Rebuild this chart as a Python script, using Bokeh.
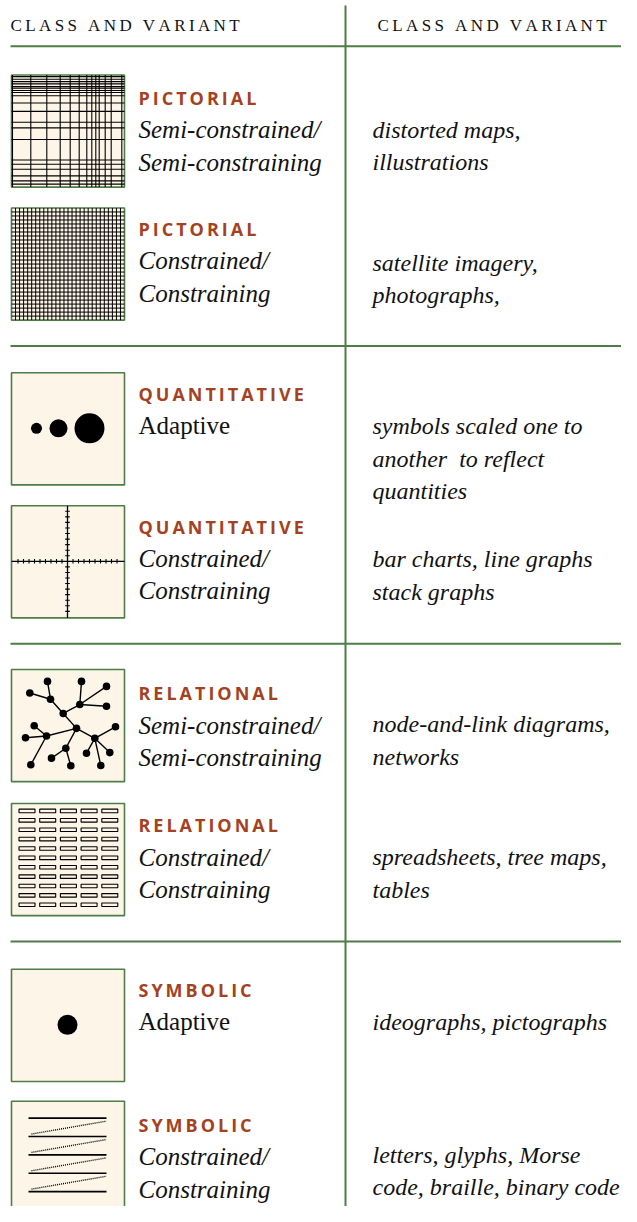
from bokeh.plotting import figure
from bokeh.models import Range1d
from bokeh.embed import file_html
from bokeh.resources import INLINE
from bokeh.core.properties import value

# ---------------- data ----------------
header_labels = ["CLASS AND VARIANT", "CLASS AND VARIANT"]
class_names = ["PICTORIAL", "PICTORIAL", "QUANTITATIVE", "QUANTITATIVE",
               "RELATIONAL", "RELATIONAL", "SYMBOLIC", "SYMBOLIC"]
variant_lines = [["Semi-constrained/", "Semi-constraining"],
                 ["Constrained/", "Constraining"],
                 ["Adaptive"],
                 ["Constrained/", "Constraining"],
                 ["Semi-constrained/", "Semi-constraining"],
                 ["Constrained/", "Constraining"],
                 ["Adaptive"],
                 ["Constrained/", "Constraining"]]
example_lines = [["distorted maps,", "illustrations"],
                 ["satellite imagery,", "photographs,"],
                 ["symbols scaled one to", "another  to reflect", "quantities"],
                 ["bar charts, line graphs", "stack graphs"],
                 ["node-and-link diagrams,", "networks"],
                 ["spreadsheets, tree maps,", "tables"],
                 ["ideographs, pictographs"],
                 ["letters, glyphs, Morse", "code, braille, binary code"]]

# irregular grid of the pictorial semi-constrained icon (offsets inside the box)
semi_grid_x = [1, 19.3, 35.3, 48.7, 58.7, 67.7, 75.3, 80.3, 84.3, 87.7, 93.7, 99.7, 110.3]
semi_grid_y = [1.7, 4.3, 6.7, 9, 11.7, 13.3, 15.7, 17.7, 21, 28.3, 36.7, 47.7, 53.3, 65,
               85.7, 90, 95, 101.7, 106.7, 110]
# bubble sizes (radius) for the quantitative adaptive icon
bubble_x = [25, 47, 78]
bubble_r = [5.5, 9, 15]
# network icon nodes and links
node_x = [36, 70, 95, 18.3, 39, 68.3, 95, 51.7, 22.7, 65, 104, 14, 35, 83.3, 54.3, 75, 98.3, 40, 19.3, 59.3, 89.3]
node_y = [12, 12, 17, 23.7, 30, 35.3, 37, 44.3, 56.7, 59.3, 57.7, 68.7, 67, 69.3, 79.3, 84.3, 83.7, 89.3, 96, 97, 96.7]
links = [(0, 4), (3, 4), (4, 7), (1, 5), (2, 5), (6, 5), (5, 7), (7, 9), (9, 12), (12, 8),
         (12, 11), (12, 18), (9, 14), (14, 17), (14, 19), (9, 13), (13, 10), (13, 15),
         (13, 16), (13, 20)]

# ---------------- layout ----------------
GREEN = "#4f7d48"
CREAM = "#fdf6e8"
BRICK = "#a4421f"

box_tops = [75, 209, 375, 509, 674, 809, 976, 1109]
title_y = [98, 230, 396, 530, 698, 831, 997, 1133]
example_y = [130, 264, 429, 563, 729, 863, 1029, 1163]
BOX_X = 11
BOX = 113
LINE_GAP = 32.8

p = figure(width=621, height=1206, output_backend="svg", toolbar_location=None,
           x_range=Range1d(0, 621), y_range=Range1d(1215, 0),
           min_border=0, outline_line_color=None, background_fill_color="white")
p.axis.visible = False
p.grid.visible = False


def spaced(s, sep="\u2009"):
    return sep.join(list(s))


# header
p.text(x=[10, 377], y=[25, 25], text=[spaced(h) for h in header_labels],
       text_font=value("Liberation Serif"), text_font_size="17px",
       text_baseline="middle", text_align="left", text_color="#111111")

# rules
p.segment(x0=[10, 10, 10, 10], x1=[632] * 4, y0=[46, 348, 648, 948], y1=[46, 348, 648, 948],
          line_color=GREEN, line_width=2)
p.segment(x0=[345], x1=[345], y0=[5], y1=[1222], line_color=GREEN, line_width=2)

# boxes
p.quad(left=[BOX_X] * 8, right=[BOX_X + BOX] * 8, top=box_tops,
       bottom=[t + BOX for t in box_tops], fill_color=CREAM, line_color=GREEN, line_width=1.6)

# icon 1: irregular grid
t = box_tops[0]
p.segment(x0=[BOX_X + gx for gx in semi_grid_x], x1=[BOX_X + gx for gx in semi_grid_x],
          y0=[t] * len(semi_grid_x), y1=[t + BOX] * len(semi_grid_x), line_color="black", line_width=1.1)
p.segment(x0=[BOX_X] * len(semi_grid_y), x1=[BOX_X + BOX] * len(semi_grid_y),
          y0=[t + gy for gy in semi_grid_y], y1=[t + gy for gy in semi_grid_y], line_color="black", line_width=1.1)

# icon 2: fine regular grid
t = box_tops[1]
n = 28
step = BOX / n
pos = [i * step for i in range(1, n)]
p.segment(x0=[BOX_X + v for v in pos], x1=[BOX_X + v for v in pos], y0=[t] * len(pos), y1=[t + BOX] * len(pos),
          line_color="black", line_width=1)
p.segment(x0=[BOX_X] * len(pos), x1=[BOX_X + BOX] * len(pos), y0=[t + v for v in pos], y1=[t + v for v in pos],
          line_color="black", line_width=1)

# icon 3: bubbles
t = box_tops[2]
p.circle(x=[BOX_X + bx for bx in bubble_x], y=[t + 56] * 3, radius=bubble_r, fill_color="black", line_color=None)

# icon 4: axes with ticks
t = box_tops[3]
cx, cy = BOX_X + 56, t + 56
p.segment(x0=[BOX_X, cx], x1=[BOX_X + BOX, cx], y0=[cy, t], y1=[cy, t + BOX], line_color="black", line_width=1.3)
tk = [k for k in range(-9, 10) if k != 0]
p.segment(x0=[cx + k * 5.5 for k in tk], x1=[cx + k * 5.5 for k in tk],
          y0=[cy - 2.3] * len(tk), y1=[cy + 2.3] * len(tk), line_color="black", line_width=1.1)
p.segment(x0=[cx - 2.3] * len(tk), x1=[cx + 2.3] * len(tk),
          y0=[cy + k * 5.6 for k in tk], y1=[cy + k * 5.6 for k in tk], line_color="black", line_width=1.1)

# icon 5: network
t = box_tops[4]
p.segment(x0=[BOX_X + node_x[a] for a, b in links], x1=[BOX_X + node_x[b] for a, b in links],
          y0=[t + node_y[a] for a, b in links], y1=[t + node_y[b] for a, b in links],
          line_color="black", line_width=1.4)
p.circle(x=[BOX_X + v for v in node_x], y=[t + v for v in node_y], radius=3.8,
         fill_color="black", line_color=None)

# icon 6: table cells
t = box_tops[5]
cols = 5
rows = 11
p.rect(x=[BOX_X + 15.5 + c * 20.7 for r in range(rows) for c in range(cols)],
       y=[t + 7.5 + r * 9.45 for r in range(rows) for c in range(cols)],
       width=16, height=3.6, fill_color=None, line_color="black", line_width=1.1)

# icon 7: single dot
t = box_tops[6]
p.circle(x=[BOX_X + 56], y=[t + 56], radius=10, fill_color="black", line_color=None)

# icon 8: lines of text
t = box_tops[7]
sol = [t + 17 + i * 18.5 for i in range(5)]
p.segment(x0=[BOX_X + 17] * 5, x1=[BOX_X + 95] * 5, y0=sol, y1=sol, line_color="black", line_width=1.6)
p.segment(x0=[BOX_X + 20] * 4, x1=[BOX_X + 95] * 4, y0=[s - 2.5 for s in sol[1:]], y1=[s + 3 for s in sol[:-1]],
          line_color="black", line_width=1.4, line_dash="1 1")

# titles
p.text(x=[138] * 8, y=title_y, text=[spaced(c) for c in class_names],
       text_font=value("Open Sans"), text_font_style="bold", text_font_size="18px",
       text_color=BRICK, text_baseline="middle", text_align="left")

# variant lines
for i, lines in enumerate(variant_lines):
    style = "normal" if lines == ["Adaptive"] else "italic"
    p.text(x=[138] * len(lines), y=[title_y[i] + 32 + j * LINE_GAP for j in range(len(lines))],
           text=lines, text_font=value("Liberation Serif"), text_font_style=style,
           text_font_size="25px", text_color="#111111", text_baseline="middle", text_align="left")

# examples
for i, lines in enumerate(example_lines):
    shown = [ln.replace("  ", " \u00a0") for ln in lines]
    p.text(x=[372] * len(lines), y=[example_y[i] + j * LINE_GAP for j in range(len(lines))],
           text=shown, text_font=value("Liberation Serif"), text_font_style="italic",
           text_font_size="24px", text_color="#111111", text_baseline="middle", text_align="left")

open("out.html", "w").write(file_html(p, INLINE))
